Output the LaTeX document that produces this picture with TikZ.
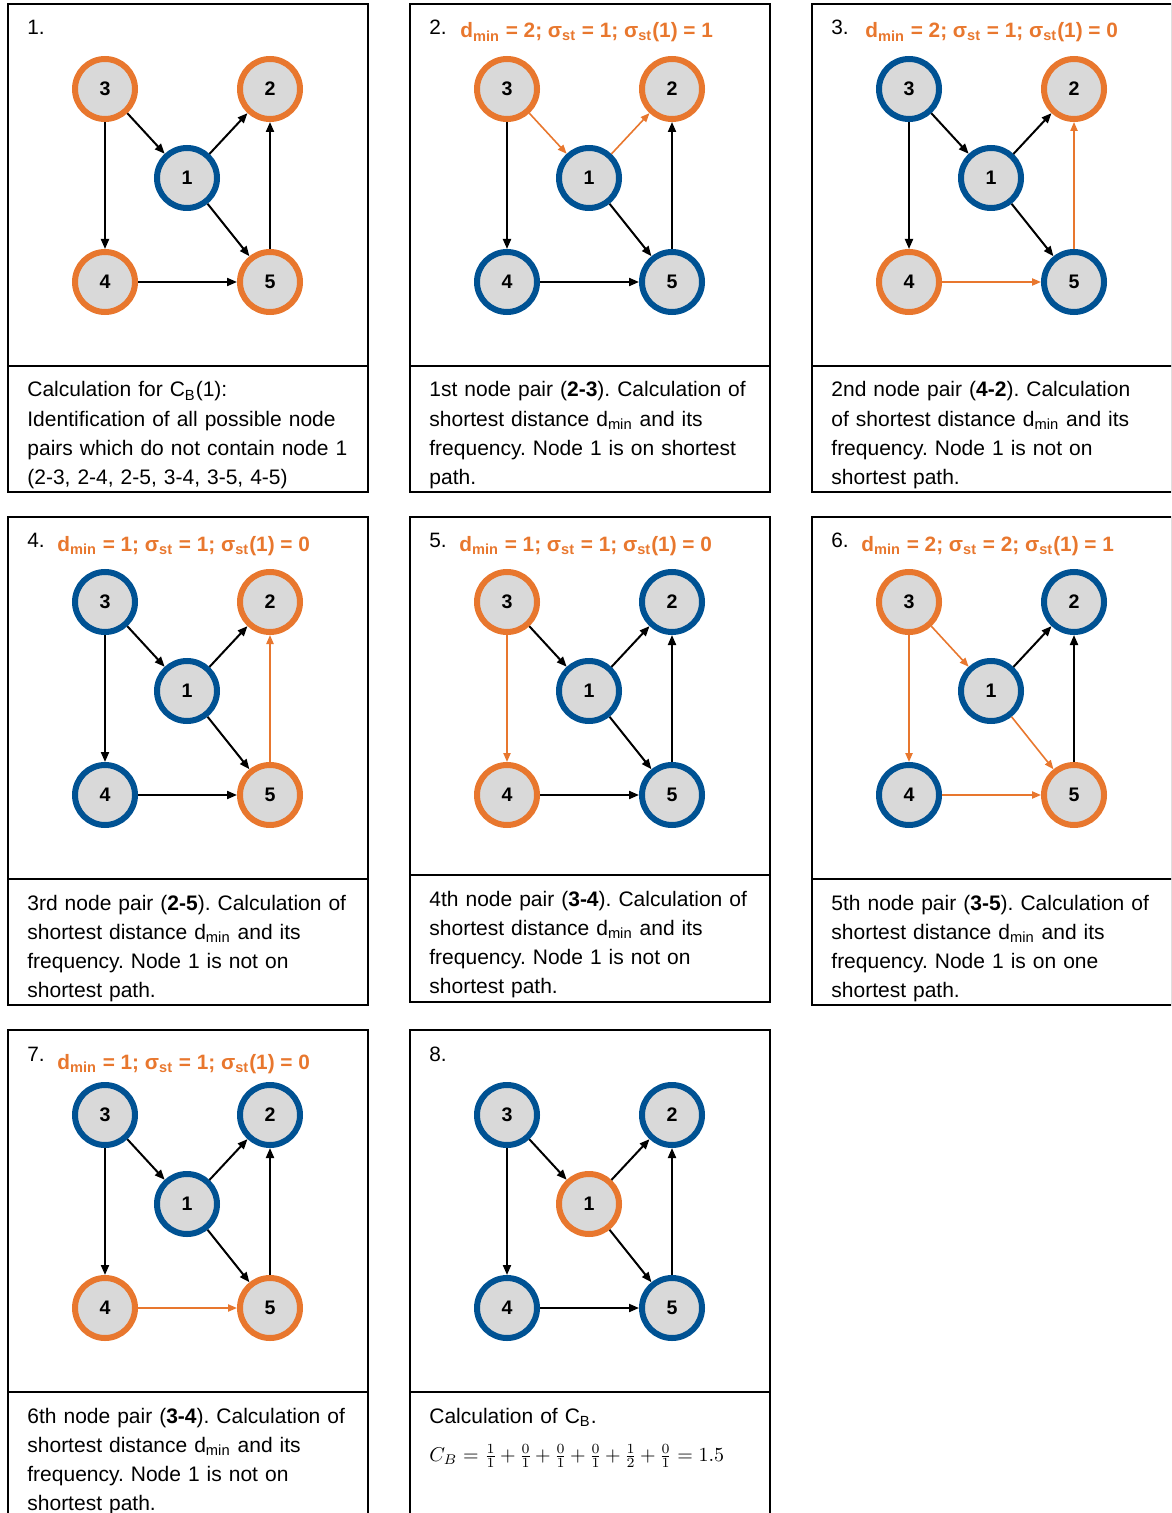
\documentclass[tikz,border=0pt]{standalone}
\usepackage{fontspec}
\setmainfont{Liberation Sans}
\usetikzlibrary{arrows.meta}

\definecolor{hot}{HTML}{E8772E}
\definecolor{cold}{HTML}{005293}
\definecolor{core}{HTML}{D9D9D9}

\tikzset{
	vertex/.style={circle,minimum size=30pt,inner sep=0pt,line width=3pt,fill=core,
		font=\fontsize{9.8}{10}\selectfont\bfseries},
	hotring/.style={vertex,draw=hot},
	coldring/.style={vertex,draw=cold},
	bare/.style={line width=1pt,-{Triangle[length=5pt,width=4pt]}},
	lit/.style={draw=hot,line width=0.8pt,-{Triangle[length=4.5pt,width=3.6pt,fill=hot]}},
	frame/.style={line width=0.9pt},
	num/.style={anchor=base west,inner sep=0pt,font=\fontsize{10.4}{12}\selectfont},
	head/.style={anchor=base west,inner sep=0pt,text=hot,font=\fontsize{10.4}{12}\selectfont\bfseries},
	caption/.style={anchor=base west,inner sep=0pt,text width=176pt,align=left,
		font=\fontsize{10.5}{14.65}\selectfont\frenchspacing}
}

% five vertices, #1 name prefix, #2..#6 ring of vertex 1..5
\newcommand{\vertices}[6]{%
	\node[#2] (#11) at (179,174) {1};
	\node[#3] (#12) at (262,85) {2};
	\node[#4] (#13) at (97,85) {3};
	\node[#5] (#14) at (97,278) {4};
	\node[#6] (#15) at (262,278) {5};
}
% arcs 3-1, 1-2, 1-5, 3-4, 4-5, 5-2
\newcommand{\arcs}[7]{%
	\draw[#2] (#13) -- (#11);
	\draw[#3] (#11) -- (#12);
	\draw[#4] (#11) -- (#15);
	\draw[#5] (#13) -- (#14);
	\draw[#6] (#14) -- (#15);
	\draw[#7] (#15) -- (#12);
}
\newcommand{\pairhead}[3]{d\textsubscript{min} = #1; σ\textsubscript{st} = #2; σ\textsubscript{st}(1) = #3}
\newcommand{\dmin}{d\textsubscript{min}}

\begin{document}
\begin{tikzpicture}[x=0.5pt,y=-0.5pt]
	\useasboundingbox (0,0) rectangle (1171,1513);
	\clip (0,0) rectangle (1171,1513);

	% 1. all pairs
	\begin{scope}[shift={(8,4)}]
		\draw[frame] (0,0) rectangle (360,488);
		\draw[frame] (0,362) -- (360,362);
		\node[num] at (19,31) {1.};
		\vertices{a}{coldring}{hotring}{hotring}{hotring}{hotring}
		\arcs{a}{bare}{bare}{bare}{bare}{bare}{bare}
		\node[caption] at (19,393) {Calculation for C\textsubscript{B}(1):\\
			Identification of all possible node\\
			pairs which do not contain node 1\\
			(2-3, 2-4, 2-5, 3-4, 3-5, 4-5)};
	\end{scope}

	% 2. pair 2-3
	\begin{scope}[shift={(410,4)}]
		\draw[frame] (0,0) rectangle (360,488);
		\draw[frame] (0,362) -- (360,362);
		\node[num] at (19,31) {2.};
		\node[head] at (50,34) {\pairhead{2}{1}{1}};
		\vertices{b}{coldring}{hotring}{hotring}{coldring}{coldring}
		\arcs{b}{lit}{lit}{bare}{bare}{bare}{bare}
		\node[caption] at (19,393) {1st node pair (\textbf{2-3}). Calculation of\\
			shortest distance \dmin{} and its\\
			frequency. Node 1 is on shortest\\
			path.};
	\end{scope}

	% 3. pair 4-2
	\begin{scope}[shift={(812,4)}]
		\draw[frame] (0,0) rectangle (360,488);
		\draw[frame] (0,362) -- (360,362);
		\node[num] at (19,31) {3.};
		\node[head] at (53,34) {\pairhead{2}{1}{0}};
		\vertices{c}{coldring}{hotring}{coldring}{hotring}{coldring}
		\arcs{c}{bare}{bare}{bare}{bare}{lit}{lit}
		\node[caption] at (19,393) {2nd node pair (\textbf{4-2}). Calculation\\
			of shortest distance \dmin{} and its\\
			frequency. Node 1 is not on\\
			shortest path.};
	\end{scope}

	% 4. pair 2-5
	\begin{scope}[shift={(8,517)}]
		\draw[frame] (0,0) rectangle (360,488);
		\draw[frame] (0,362) -- (360,362);
		\node[num] at (19,30) {4.};
		\node[head] at (49,34) {\pairhead{1}{1}{0}};
		\vertices{d}{coldring}{hotring}{coldring}{coldring}{hotring}
		\arcs{d}{bare}{bare}{bare}{bare}{bare}{lit}
		\node[caption] at (19,393) {3rd node pair (\textbf{2-5}). Calculation of\\
			shortest distance \dmin{} and its\\
			frequency. Node 1 is not on\\
			shortest path.};
	\end{scope}

	% 5. pair 3-4
	\begin{scope}[shift={(410,517)}]
		\draw[frame] (0,0) rectangle (360,485);
		\draw[frame] (0,358) -- (360,358);
		\node[num] at (19,30) {5.};
		\node[head] at (49,34) {\pairhead{1}{1}{0}};
		\vertices{e}{coldring}{coldring}{hotring}{hotring}{coldring}
		\arcs{e}{bare}{bare}{bare}{lit}{bare}{bare}
		\node[caption] at (19,389) {4th node pair (\textbf{3-4}). Calculation of\\
			shortest distance \dmin{} and its\\
			frequency. Node 1 is not on\\
			shortest path.};
	\end{scope}

	% 6. pair 3-5
	\begin{scope}[shift={(812,517)}]
		\draw[frame] (0,0) rectangle (360,488);
		\draw[frame] (0,362) -- (360,362);
		\node[num] at (19,30) {6.};
		\node[head] at (49,34) {\pairhead{2}{2}{1}};
		\vertices{f}{coldring}{coldring}{hotring}{coldring}{hotring}
		\arcs{f}{lit}{bare}{lit}{lit}{lit}{bare}
		\node[caption] at (19,393) {5th node pair (\textbf{3-5}). Calculation of\\
			shortest distance \dmin{} and its\\
			frequency. Node 1 is on one\\
			shortest path.};
	\end{scope}

	% 7. pair 4-5
	\begin{scope}[shift={(8,1030)}]
		\draw[frame] (0,0) rectangle (360,500);
		\draw[frame] (0,362) -- (360,362);
		\node[num] at (19,31) {7.};
		\node[head] at (49,39) {\pairhead{1}{1}{0}};
		\vertices{g}{coldring}{coldring}{coldring}{hotring}{hotring}
		\arcs{g}{bare}{bare}{bare}{bare}{lit}{bare}
		\node[caption] at (19,393) {6th node pair (\textbf{3-4}). Calculation of\\
			shortest distance \dmin{} and its\\
			frequency. Node 1 is not on\\
			shortest path.};
	\end{scope}

	% 8. result
	\begin{scope}[shift={(410,1030)}]
		\draw[frame] (0,0) rectangle (360,500);
		\draw[frame] (0,362) -- (360,362);
		\node[num] at (19,31) {8.};
		\vertices{h}{hotring}{coldring}{coldring}{coldring}{coldring}
		\arcs{h}{bare}{bare}{bare}{bare}{bare}{bare}
		\node[caption] at (19,393) {Calculation of C\textsubscript{B}.};
		\node[anchor=base west,inner sep=0pt,font=\fontsize{10.2}{14}\selectfont] at (19,431)
			{\medmuskip=3mu $C_B=\frac{1}{1}+\frac{0}{1}+\frac{0}{1}+\frac{0}{1}+\frac{1}{2}+\frac{0}{1}=1.5$};
	\end{scope}
\end{tikzpicture}
\end{document}
